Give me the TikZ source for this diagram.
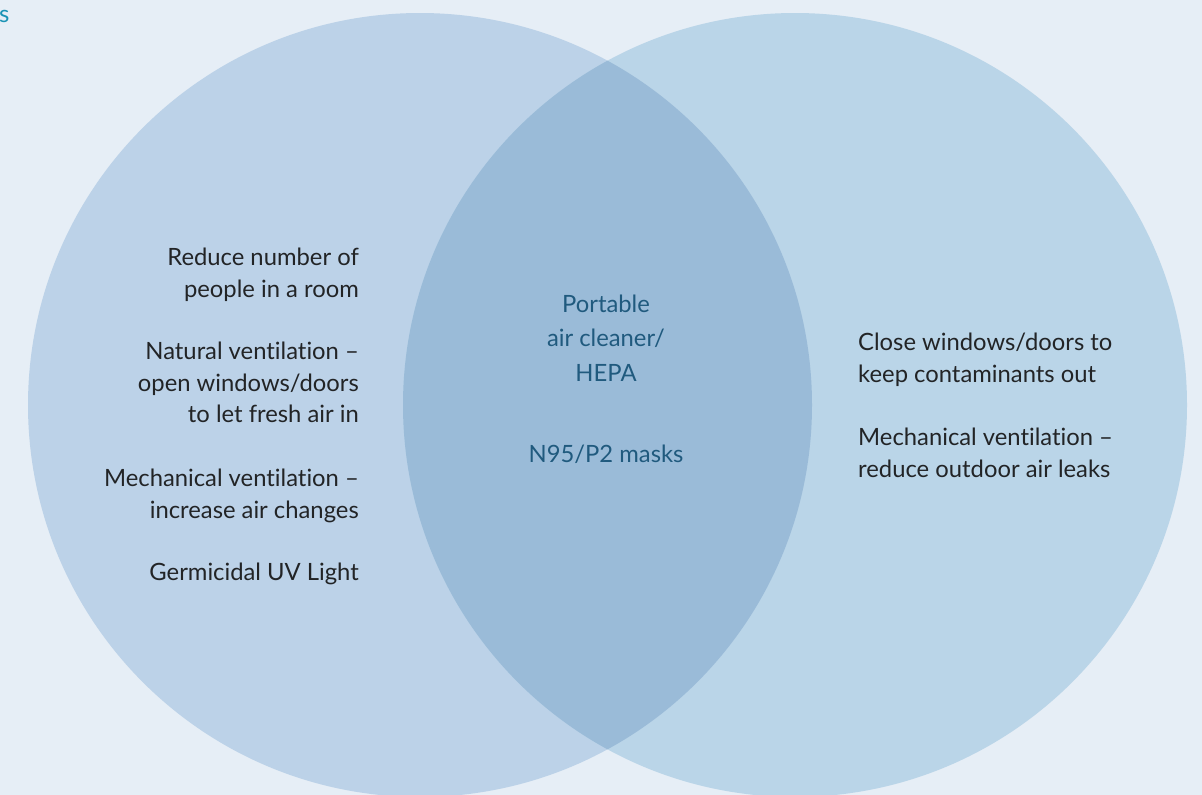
\documentclass[tikz,border=0pt]{standalone}
\usepackage{fontspec}
\setmainfont{Lato}[Ligatures={NoCommon,TeX}]
\definecolor{bg}{HTML}{E6EEF6}
\definecolor{leftc}{HTML}{BCD2E8}
\definecolor{rightc}{HTML}{BAD5E8}
\definecolor{lens}{HTML}{9ABBD8}
\definecolor{txt}{HTML}{222426}
\definecolor{ctxt}{HTML}{205A7E}
\definecolor{teal}{HTML}{1A93B5}
\begin{document}
\begin{tikzpicture}[x=1pt,y=-1pt,
  lbl/.style={inner sep=0pt, font=\fontsize{23.8}{28}\selectfont, text=txt},
  lft/.style={lbl, anchor=base east},
  rgt/.style={lbl, anchor=base west},
  mid/.style={lbl, anchor=base, text=ctxt}]
\useasboundingbox (0,0) rectangle (1202,795);
\fill[bg] (0,0) rectangle (1202,795);
\coordinate (cl) at (420,405);
\coordinate (cr) at (795,405);
\fill[leftc] (cl) circle[radius=392];
\fill[rightc] (cr) circle[radius=392];
\begin{scope}
\clip (cl) circle[radius=392];
\fill[lens] (cr) circle[radius=392];
\end{scope}
\node[anchor=base west, inner sep=0pt, text=teal, font=\fontsize{23.8}{28}\selectfont] (s) at (-1,22) {s};
% left
\node[lft] (l1) at (359,265) {Reduce number of};
\node[lft] (l2) at (359,297) {people in a room};
\node[lft] (l3) at (359,359) {Natural ventilation –};
\node[lft] (l4) at (359,391) {open windows/doors};
\node[lft] (l5) at (359,422) {to let fresh air in};
\node[lft] (l6) at (359,486) {Mechanical ventilation –};
\node[lft] (l7) at (359,518) {increase air changes};
\node[lft] (l8) at (359,580) {Germicidal UV Light};
% middle
\node[mid] (m1) at (606,312) {Portable};
\node[mid] (m2) at (606,346) {air cleaner/};
\node[mid] (m3) at (606,381) {HEPA};
\node[mid] (m4) at (606,462) {N95/P2 masks};
% right
\node[rgt] (r1) at (858,350) {Close windows/doors to};
\node[rgt] (r2) at (858,382) {keep contaminants out};
\node[rgt] (r3) at (858,445) {Mechanical ventilation –};
\node[rgt] (r4) at (858,477) {reduce outdoor air leaks};
\end{tikzpicture}
\end{document}
